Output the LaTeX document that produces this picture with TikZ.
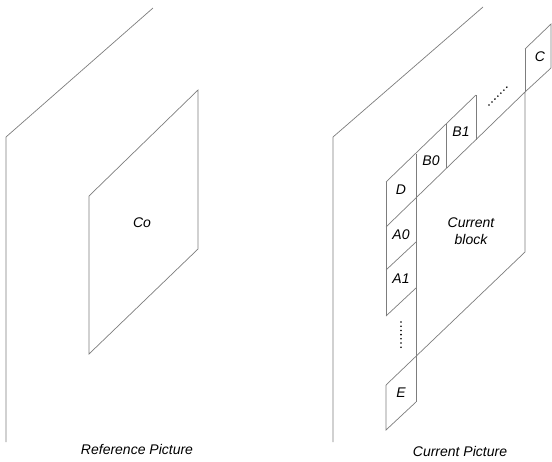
\documentclass[tikz,border=0pt]{standalone}
\usepackage{fontspec}
\setmainfont{Liberation Sans}
\begin{document}
\begin{tikzpicture}[x=1pt,y=-1pt,
  edge/.style={draw={rgb,255:red,125;green,125;blue,125}, line width=0.7pt, line join=miter},
  lbl/.style={font=\fontsize{14}{17}\selectfont\itshape, inner sep=0pt, text=black},
  dotrow/.style={draw=black, line width=1.8pt, line cap=round, dash pattern=on 0pt off 4.2pt}]
\useasboundingbox (0,0) rectangle (552,461);

% ---- left: reference frame ----
\draw[edge] (153,8) -- (6,137) -- (6,442);
\draw[edge] (89,196) -- (198,90) -- (198,249) -- (89,354) -- cycle;
\node[lbl] (co) at (142,223) {Co};
\node[lbl] (refcap) at (137,449) {Reference Picture};

% ---- right: current frame ----
\draw[edge] (483,7) -- (333,137) -- (333,442);

% current block and the row of neighbours above it
\draw[edge] (386,227) -- (525,92) -- (525,252) -- (386,385);
\draw[edge] (386,182) -- (476,95);
\draw[edge] (416,154) -- (416,402);
\draw[edge] (446,124) -- (446,168);
\draw[edge] (476,95) -- (476,140);
% left column of neighbours
\draw[edge] (386,182) -- (386,316);
\draw[edge] (386,270) -- (416,242);
\draw[edge] (386,316) -- (416,288);
\draw[edge] (386,385) -- (386,430) -- (416,402);
% block C at the top right
\draw[edge] (525,49) -- (551,24) -- (551,68);
\draw[edge] (525,49) -- (525,92);
\draw[edge] (525,92) -- (551,68);

\node[lbl] (d)  at (401,190) {D};
\node[lbl] (b0) at (431,161) {B0};
\node[lbl] (b1) at (461,132) {B1};
\node[lbl] (a0) at (401,235) {A0};
\node[lbl] (a1) at (401,279) {A1};
\node[lbl] (e)  at (401,393) {E};
\node[lbl] (c)  at (540,57) {C};
\node[lbl, align=center] (cur) at (471,231) {Current\\block};
\node[lbl] (curcap) at (460,451) {Current Picture};

% ellipses
\coordinate (hd1) at (489,105);
\coordinate (hd2) at (507,87);
\draw[dotrow] (hd1) -- (hd2);
\coordinate (vd1) at (401,322);
\coordinate (vd2) at (401,348);
\draw[dotrow] (vd1) -- (vd2);
\end{tikzpicture}
\end{document}
